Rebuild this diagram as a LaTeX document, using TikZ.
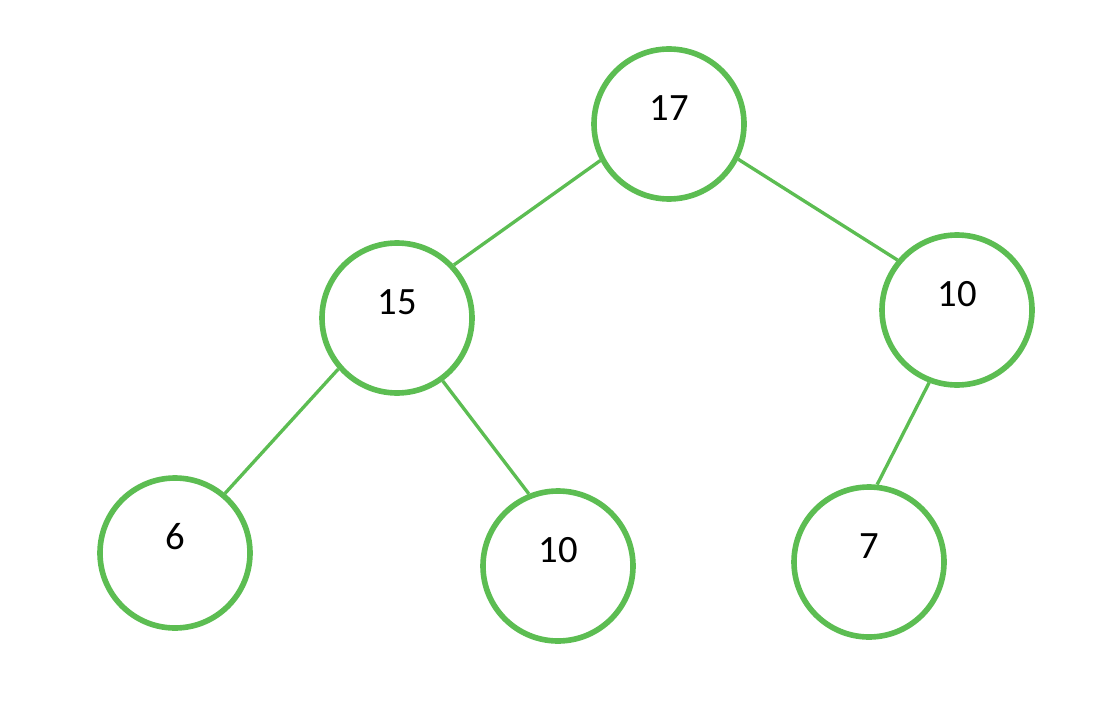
\documentclass[tikz,border=0pt]{standalone}
\usepackage{fontspec}
\setmainfont{Carlito}
\usepackage{tikz}
\usetikzlibrary{arrows,shapes}

\begin{document}
\begin{tikzpicture}
		
		\definecolor{heapgreen}{RGB}{92,189,82}
		
		\tikzstyle{edge} = [draw=heapgreen,line width=1.9pt,-]
		\useasboundingbox (0,0) rectangle (22.38,-14.38);
		
		\tikzset{vertex/.style = {shape=circle,draw=heapgreen,line width=3.2pt,minimum size=3cm,inner sep=0pt}}
		\tikzset{num/.style = {font=\fontsize{22}{26}\selectfont,inner sep=0pt}}
		\node[vertex] (v17) at  (13.38,-2.48) {};
		\node[vertex] (v15) at  (7.94,-6.36) {};
		\node[vertex] (v10r) at  (19.14,-6.20) {};
		\node[vertex] (v6) at  (3.50,-11.06) {};
		\node[vertex] (v10b) at  (11.16,-11.32) {};
		\node[vertex] (v7) at  (17.38,-11.24) {};
		
		\node[num] (t17) at  ([yshift=0.32cm]v17) {17};
		\node[num] (t15) at  ([yshift=0.32cm]v15) {15};
		\node[num] (t10r) at  ([yshift=0.32cm]v10r) {10};
		\node[num] (t6) at  ([yshift=0.32cm]v6) {6};
		\node[num] (t10b) at  ([yshift=0.32cm]v10b) {10};
		\node[num] (t7) at  ([yshift=0.32cm]v7) {7};
		
		\draw[edge] (v17.-152) to (v15.43);
		\draw[edge] (v17.-27) to (v10r.140);
		\draw[edge] (v15.-139) to (v6.50);
		\draw[edge] (v15.-54) to (v10b.112);
		\draw[edge] (v10r.-111) to (v7.84);
		\end{tikzpicture}
\end{document}
